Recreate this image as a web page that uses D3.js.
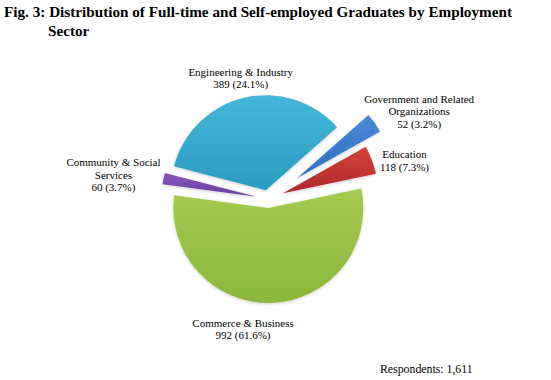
<!DOCTYPE html>
<html>
<head>
<meta charset="utf-8">
<script src="https://cdn.jsdelivr.net/npm/d3@7/dist/d3.min.js"></script>
<style>
  html, body { margin: 0; padding: 0; background: #ffffff; }
  svg { display: block; }
  text { font-family: "Liberation Serif", "Times New Roman", serif; fill: #000; }
</style>
</head>
<body>
<svg id="chart" width="551" height="380"></svg>
<script>
// ---- data ----
const sectors = ["Engineering & Industry", "Government and Related Organizations", "Education", "Commerce & Business", "Community & Social Services"];
const labelLines = [["Engineering & Industry"], ["Government and Related", "Organizations"], ["Education"], ["Commerce & Business"], ["Community & Social", "Services"]];
const counts = [389, 52, 118, 992, 60];
const respondents = 1611;
const titleLines = ["Fig. 3: Distribution of Full-time and Self-employed Graduates by Employment", "Sector"];

// ---- styles / layout ----
const colorsTop = ["#45b7d8", "#4a8ad8", "#d3433c", "#a4cc4f", "#8559ba"];
const colorsBottom = ["#2a9cc1", "#2e6ec0", "#b0282a", "#8bb73c", "#6a3fa2"];
const explode = [9, 36, 16, 9, 11.5];
const labelNudge = [[11, 0], [-7, 4], [2, 8], [-31, 6], [4, 1.5]];

const svg = d3.select("#chart");
const cx = 268, cy = 199, R = 95, tilt = 0.45;
const startDeg = -60;

// title
svg.append("text").attr("x", 4).attr("y", 17).attr("font-size", 15.2).attr("font-weight", "bold").text(titleLines[0]);
svg.append("text").attr("x", 48).attr("y", 36).attr("font-size", 15.2).attr("font-weight", "bold").text(titleLines[1]);

const defs = svg.append("defs");
const filt = defs.append("filter").attr("id", "shadow").attr("x", "-20%").attr("y", "-20%").attr("width", "140%").attr("height", "140%");
filt.append("feDropShadow").attr("dx", 0).attr("dy", 1).attr("stdDeviation", 1.5).attr("flood-color", "#000").attr("flood-opacity", 0.2);

counts.forEach((c, i) => {
  const g = defs.append("linearGradient").attr("id", "grad" + i).attr("x1", 0).attr("y1", 0).attr("x2", 0).attr("y2", 1);
  g.append("stop").attr("offset", "0%").attr("stop-color", colorsTop[i]);
  g.append("stop").attr("offset", "100%").attr("stop-color", colorsBottom[i]);
});

// perspective warp of pie angles (0 = 12 o'clock, clockwise)
function warp(t) {
  const a = Math.atan2(Math.sin(t), tilt * Math.cos(t));
  return a + 2 * Math.PI * Math.round((t - a) / (2 * Math.PI));
}

const start = startDeg * Math.PI / 180;
const pie = d3.pie().sort(null).value(d => d).startAngle(start).endAngle(start + 2 * Math.PI);
const arcs = pie(counts).map((a, i) => {
  const s0 = warp(a.startAngle), e0 = warp(a.endAngle);
  const mid = (s0 + e0) / 2;
  const dir = [Math.sin(mid), -Math.cos(mid)];
  return { i, s: s0, e: e0, mid, dir, apex: [cx + dir[0] * explode[i], cy + dir[1] * explode[i]] };
});

const arcGen = d3.arc().innerRadius(0).outerRadius(R);

const slices = svg.append("g");
arcs.forEach(a => {
  slices.append("path")
    .attr("transform", `translate(${a.apex[0]},${a.apex[1]})`)
    .attr("d", arcGen({ startAngle: a.s, endAngle: a.e }))
    .attr("fill", `url(#grad${a.i})`)
    .attr("filter", "url(#shadow)");
});

// labels
const fmtN = d3.format(",");
const fmtP = d3.format(".1%");
const fs = 11, lh = 12.3;
const labels = svg.append("g");
arcs.forEach(a => {
  const i = a.i;
  const lines = labelLines[i].concat([`${fmtN(counts[i])} (${fmtP(counts[i] / respondents)})`]);
  const t = labels.append("text").attr("font-size", fs).attr("text-anchor", "middle");
  lines.forEach((ln, k) => t.append("tspan").attr("x", 0).attr("dy", k === 0 ? 0 : lh).text(ln));
  const bb = t.node().getBBox();
  const w = bb.width, h = lines.length * lh;
  const px = a.apex[0] + a.dir[0] * (R + 8);
  const py = a.apex[1] + a.dir[1] * (R + 8);
  const lx = px + a.dir[0] * w / 2 + labelNudge[i][0];
  const ly = py + a.dir[1] * h / 2 + labelNudge[i][1];
  const firstBase = ly - (lines.length - 1) * lh / 2 + fs * 0.35;
  t.attr("transform", `translate(${lx},${firstBase})`);
});

svg.append("text").attr("x", 380).attr("y", 373).attr("font-size", 11.8).text(`Respondents: ${fmtN(respondents)}`);
</script>
</body>
</html>
